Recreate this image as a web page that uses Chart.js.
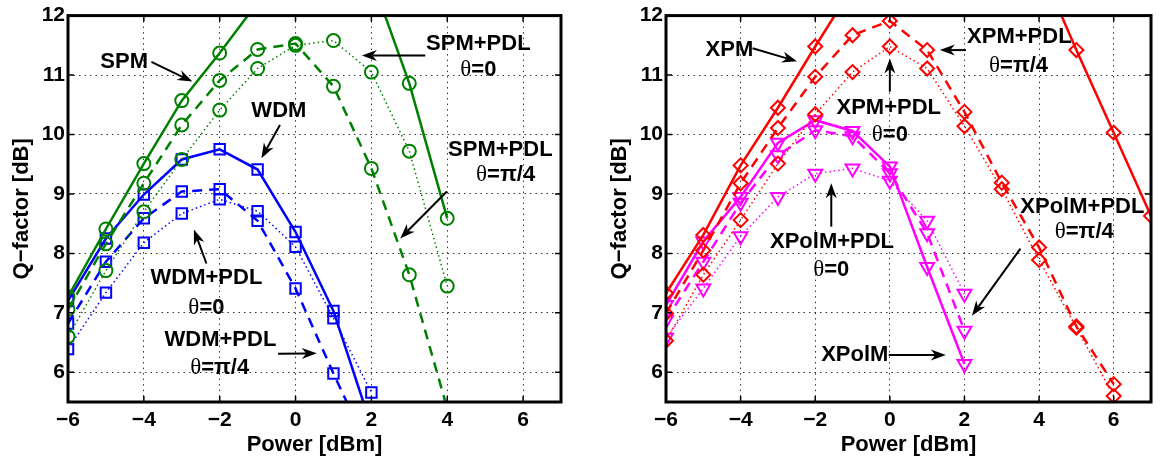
<!DOCTYPE html>
<html>
<head>
<meta charset="utf-8">
<script src="https://cdn.jsdelivr.net/npm/chart.js@4.4.1/dist/chart.umd.min.js"></script>
<style>
  html, body { margin: 0; padding: 0; background: #fff; }
  #wrap { position: relative; width: 1161px; height: 458px; }
  .panel { position: absolute; top: 0; }
</style>
</head>
<body>
<div id="wrap">
  <canvas id="leftChart" class="panel" width="580" height="458" style="left:0"></canvas>
  <canvas id="rightChart" class="panel" width="581" height="458" style="left:580px"></canvas>
</div>
<script>
// ---- power sweeps [dBm] ----
const spmPower  = [-6, -5, -4, -3, -2, -1, 0, 1, 2, 3, 4];
const wdmPower  = [-6, -5, -4, -3, -2, -1, 0, 1, 2];
const xpmPower  = [-6, -5, -4, -3, -2, -1, 0, 1, 2, 3, 4, 5, 6, 7];
const xpmPdlPower = [-6, -5, -4, -3, -2, -1, 0, 1, 2, 3, 4, 5, 6];
const xpolmPower = [-6, -5, -4, -3, -2, -1, 0, 1, 2];

// ---- Q-factor [dB], left panel ----
const qSpm        = [7.27, 8.41, 9.51, 10.57, 11.37, 12.22, 12.8, 12.9, 12.64, 10.86, 8.59];
const qSpmPdlPi4  = [7.06, 8.16, 9.18, 10.16, 10.91, 11.43, 11.53, 10.81, 9.43, 7.64, 5.39];
const qSpmPdl0    = [6.60, 7.71, 8.70, 9.58, 10.41, 11.11, 11.50, 11.58, 11.05, 9.72, 7.45];
const qWdm        = [7.20, 8.25, 8.99, 9.58, 9.75, 9.41, 8.36, 7.03, 5.09];
const qWdmPdlPi4  = [6.82, 7.86, 8.59, 9.04, 9.08, 8.55, 7.41, 5.98, 4.61];
const qWdmPdl0    = [6.39, 7.34, 8.18, 8.67, 8.91, 8.71, 8.11, 6.91, 5.66];

// ---- Q-factor [dB], right panel ----
const qXpm        = [7.33, 8.31, 9.48, 10.45, 11.48, 12.48, 13.2, 13.6, 13.7, 13.4, 12.87, 11.42, 10.03, 8.63];
const qXpmPdlPi4  = [6.99, 8.05, 9.18, 10.11, 10.97, 11.67, 11.91, 11.42, 10.38, 9.19, 8.10, 6.77, 5.80];
const qXpmPdl0    = [6.53, 7.64, 8.56, 9.51, 10.34, 11.05, 11.48, 11.11, 10.14, 9.08, 7.89, 6.75, 5.60];
const qXpolm      = [7.13, 8.20, 8.95, 9.86, 10.24, 10.06, 9.46, 7.77, 6.14];
const qXpolmPdlPi4 = [6.88, 7.86, 8.85, 9.65, 10.07, 9.97, 9.35, 8.34, 6.70];
const qXpolmPdl0  = [6.58, 7.41, 8.29, 8.95, 9.34, 9.43, 9.22, 8.55, 7.32];

// ---- axes ----
const xTickValues = [-6, -4, -2, 0, 2, 4, 6];
const yTickValues = [6, 7, 8, 9, 10, 11, 12];

const GREEN = '#008000', BLUE = '#0000ff', RED = '#ff0000', MAGENTA = '#ff00ff';
const SANS = '"Liberation Sans", Arial, sans-serif';

const CIRCLE = { style: 'circle', radius: 6.5 };
const SQUARE = { style: 'rect', radius: 7.4 };
const DIAMOND = { style: 'rectRot', radius: 7 };
const TRI_DOWN = { style: 'triangle', radius: 8, rotation: 180 };

function series(label, xs, ys, color, style, marker) {
  return {
    label: label,
    data: xs.map((x, i) => ({ x: x, y: ys[i] })),
    borderColor: color,
    backgroundColor: 'rgba(0,0,0,0)',
    borderWidth: style === 'dot' ? 1.5 : 2.5,
    borderDash: style === 'dash' ? [10, 7] : style === 'dot' ? [1.5, 3] : [],
    pointStyle: marker.style,
    pointRadius: marker.radius,
    pointRotation: marker.rotation || 0,
    pointBorderWidth: 2,
    pointBorderColor: color,
    pointBackgroundColor: 'rgba(0,0,0,0)',
    pointHoverRadius: marker.radius,
    tension: 0,
    fill: false
  };
}

function minusSign(v) {
  return String(v).replace('-', '\u2212');
}

function scaleOptions(titlePad) {
  const gridStyle = { color: 'rgba(0,0,0,0.8)', lineWidth: 1, drawTicks: false };
  return {
    x: {
      type: 'linear', min: -6, max: 7,
      afterBuildTicks: s => { s.ticks = xTickValues.map(v => ({ value: v })); },
      afterFit: s => { s.height = 56; },
      grid: gridStyle,
      border: { display: false, dash: [1.5, 4] },
      ticks: { color: '#000', padding: 6, maxRotation: 0, font: { family: SANS, size: 21, weight: 'bold' }, callback: minusSign },
      title: { display: true, text: 'Power [dBm]', color: '#000', padding: { top: 0, bottom: 0 }, font: { family: SANS, size: 22, weight: 'bold' } }
    },
    y: {
      type: 'linear', min: 5.5, max: 12,
      afterBuildTicks: s => { s.ticks = yTickValues.map(v => ({ value: v })); },
      afterFit: s => { s.width = 68 + titlePad.extra; },
      grid: gridStyle,
      border: { display: false, dash: [1.5, 4] },
      ticks: { color: '#000', padding: 3, font: { family: SANS, size: 21, weight: 'bold' }, callback: minusSign },
      title: { display: true, text: 'Q\u2212factor [dB]', color: '#000', padding: { top: titlePad.top, bottom: 0 }, font: { family: SANS, size: 22, weight: 'bold' } }
    }
  };
}

// box round the plot area with inward tick marks on all four sides
function drawFrame(chart) {
  const ctx = chart.ctx, a = chart.chartArea;
  const sx = chart.scales.x, sy = chart.scales.y;
  const tl = 6;
  ctx.save();
  ctx.setLineDash([]);
  ctx.strokeStyle = '#000';
  ctx.lineWidth = 1.5;
  ctx.beginPath();
  xTickValues.forEach(v => {
    const px = sx.getPixelForValue(v);
    ctx.moveTo(px, a.bottom); ctx.lineTo(px, a.bottom - tl);
    ctx.moveTo(px, a.top); ctx.lineTo(px, a.top + tl);
  });
  yTickValues.forEach(v => {
    const py = sy.getPixelForValue(v);
    ctx.moveTo(a.left, py); ctx.lineTo(a.left + tl, py);
    ctx.moveTo(a.right, py); ctx.lineTo(a.right - tl, py);
  });
  ctx.stroke();
  ctx.lineWidth = 3;
  ctx.strokeRect(a.left, a.top, a.right - a.left, a.bottom - a.top);
  ctx.restore();
}

function drawArrow(ctx, x1, y1, x2, y2) {
  const ang = Math.atan2(y2 - y1, x2 - x1);
  const len = 15, half = 5.5;
  const cos = Math.cos(ang), sin = Math.sin(ang);
  ctx.beginPath();
  ctx.moveTo(x1, y1);
  ctx.lineTo(x2 - cos * len * 0.7, y2 - sin * len * 0.7);
  ctx.stroke();
  const bx = x2 - cos * len, by = y2 - sin * len;
  ctx.beginPath();
  ctx.moveTo(x2, y2);
  ctx.lineTo(bx + sin * half, by - cos * half);
  ctx.lineTo(x2 - cos * len * 0.7, y2 - sin * len * 0.7);
  ctx.lineTo(bx - sin * half, by + cos * half);
  ctx.closePath();
  ctx.fill();
}

// frame, then text labels and arrows placed in data units
const notesPlugin = {
  id: 'notes',
  afterDraw(chart, args, opts) {
    drawFrame(chart);
    const ctx = chart.ctx;
    const px = v => chart.scales.x.getPixelForValue(v);
    const py = v => chart.scales.y.getPixelForValue(v);
    const bold = 'bold 22px ' + SANS;
    const serif = '23px "Liberation Serif", "DejaVu Serif", serif';
    ctx.save();
    ctx.setLineDash([]);
    ctx.fillStyle = '#000';
    ctx.textBaseline = 'middle';
    (opts.labels || []).forEach(l => {
      if (l.text.charAt(0) === '\u03b8') {
        const rest = l.text.slice(1);
        ctx.font = serif;
        const w1 = ctx.measureText('\u03b8').width;
        ctx.font = bold;
        const w2 = ctx.measureText(rest).width;
        const x0 = px(l.x) - (w1 + w2) / 2;
        ctx.textAlign = 'left';
        ctx.font = serif;
        ctx.fillText('\u03b8', x0, py(l.y));
        ctx.font = bold;
        ctx.fillText(rest, x0 + w1, py(l.y));
      } else {
        ctx.font = bold;
        ctx.textAlign = 'center';
        ctx.fillText(l.text, px(l.x), py(l.y));
      }
    });
    ctx.strokeStyle = '#000';
    ctx.lineWidth = 2;
    (opts.arrows || []).forEach(a => {
      drawArrow(ctx, px(a.from[0]), py(a.from[1]), px(a.to[0]), py(a.to[1]));
    });
    ctx.restore();
  }
};

function makeChart(id, datasets, titlePad, padRight, notes) {
  return new Chart(document.getElementById(id), {
    type: 'line',
    data: { datasets: datasets },
    options: {
      responsive: false,
      animation: false,
      events: [],
      layout: { padding: { top: 15, right: padRight, bottom: 0, left: 0 } },
      scales: scaleOptions(titlePad),
      plugins: { legend: { display: false }, tooltip: { enabled: false }, notes: notes }
    },
    plugins: [notesPlugin]
  });
}

// Left: single channel SPM and WDM
makeChart('leftChart', [
  series('SPM', spmPower, qSpm, GREEN, 'solid', CIRCLE),
  series('SPM+PDL θ=π/4', spmPower, qSpmPdlPi4, GREEN, 'dash', CIRCLE),
  series('SPM+PDL θ=0', spmPower, qSpmPdl0, GREEN, 'dot', CIRCLE),
  series('WDM', wdmPower, qWdm, BLUE, 'solid', SQUARE),
  series('WDM+PDL θ=π/4', wdmPower, qWdmPdlPi4, BLUE, 'dash', SQUARE),
  series('WDM+PDL θ=0', wdmPower, qWdmPdl0, BLUE, 'dot', SQUARE)
], { top: 9, extra: 0 }, 19, {
  labels: [
    { text: 'SPM', x: -4.52, y: 11.22 },
    { text: 'WDM', x: -0.44, y: 10.39 },
    { text: 'SPM+PDL', x: 4.82, y: 11.53 },
    { text: '\u03b8=0', x: 4.82, y: 11.08 },
    { text: 'SPM+PDL', x: 5.40, y: 9.74 },
    { text: '\u03b8=\u03c0/4', x: 5.54, y: 9.32 },
    { text: 'WDM+PDL', x: -2.35, y: 7.58 },
    { text: '\u03b8=0', x: -2.35, y: 7.09 },
    { text: 'WDM+PDL', x: -1.98, y: 6.54 },
    { text: '\u03b8=\u03c0/4', x: -2.0, y: 6.07 }
  ],
  arrows: [
    { from: [-3.80, 11.22], to: [-2.72, 10.89] },
    { from: [-0.41, 10.16], to: [-0.90, 9.60] },
    { from: [3.42, 11.33], to: [1.75, 11.33] },
    { from: [3.99, 9.04], to: [2.76, 8.25] },
    { from: [-2.35, 7.83], to: [-2.68, 8.40] },
    { from: [-0.46, 6.31], to: [0.56, 6.32] }
  ]
});

// Right: XPM and XPolM
makeChart('rightChart', [
  series('XPM', xpmPower, qXpm, RED, 'solid', DIAMOND),
  series('XPM+PDL θ=π/4', xpmPdlPower, qXpmPdlPi4, RED, 'dash', DIAMOND),
  series('XPM+PDL θ=0', xpmPdlPower, qXpmPdl0, RED, 'dot', DIAMOND),
  series('XPolM', xpolmPower, qXpolm, MAGENTA, 'solid', TRI_DOWN),
  series('XPolM+PDL θ=π/4', xpolmPower, qXpolmPdlPi4, MAGENTA, 'dash', TRI_DOWN),
  series('XPolM+PDL θ=0', xpolmPower, qXpolmPdl0, MAGENTA, 'dot', TRI_DOWN)
], { top: 27, extra: 18 }, 4, {
  labels: [
    { text: 'XPM', x: -4.30, y: 11.42 },
    { text: 'XPM+PDL', x: 3.47, y: 11.64 },
    { text: '\u03b8=\u03c0/4', x: 3.45, y: 11.16 },
    { text: 'XPM+PDL', x: -0.03, y: 10.44 },
    { text: '\u03b8=0', x: 0, y: 9.99 },
    { text: 'XPolM+PDL', x: -1.55, y: 8.19 },
    { text: '\u03b8=0', x: -1.57, y: 7.72 },
    { text: 'XPolM+PDL', x: 5.16, y: 8.78 },
    { text: '\u03b8=\u03c0/4', x: 5.21, y: 8.36 },
    { text: 'XPolM', x: -0.94, y: 6.29 }
  ],
  arrows: [
    { from: [-3.68, 11.45], to: [-2.49, 11.23] },
    { from: [2.04, 11.42], to: [1.34, 11.42] },
    { from: [0, 10.72], to: [0, 11.28] },
    { from: [-1.57, 8.45], to: [-1.57, 9.18] },
    { from: [3.50, 8.08], to: [2.20, 6.95] },
    { from: [-0.03, 6.29], to: [1.50, 6.29] }
  ]
});
</script>
</body>
</html>
